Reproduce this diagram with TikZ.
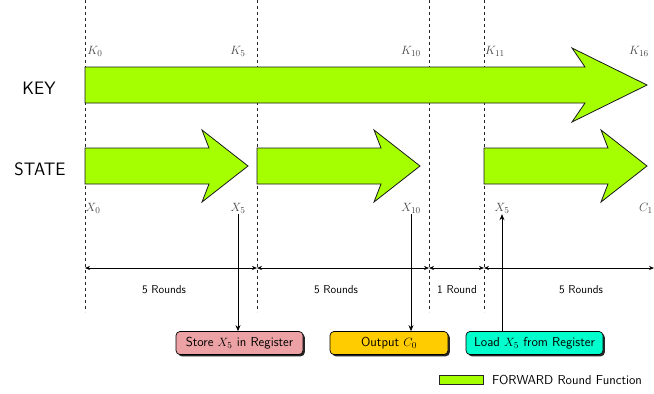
\documentclass[tikz,border=0pt]{standalone}
\usetikzlibrary{arrows.meta,shadows}
\renewcommand{\familydefault}{\sfdefault}
\definecolor{fwd}{RGB}{166,255,0}
\definecolor{storec}{RGB}{236,162,164}
\definecolor{outc}{RGB}{255,204,0}
\definecolor{loadc}{RGB}{0,255,204}
\tikzset{
  fwdarrow/.style={draw=black!90, line width=0.8pt, fill=fwd, line join=miter},
  sepline/.style={dashed, line width=0.6pt, black!85},
  lbl/.style={text=black!72, inner sep=1pt, font=\fontsize{12.5}{14}\selectfont},
  rowlbl/.style={font=\fontsize{18}{21}\selectfont, inner sep=0pt},
  dim/.style={line width=0.7pt, {Stealth[length=5pt,width=4pt]}-{Stealth[length=5pt,width=4pt]}},
  dimlbl/.style={font=\fontsize{11.5}{13}\selectfont, inner sep=1pt},
  vline/.style={line width=0.7pt, -{Stealth[length=6pt,width=5pt]}},
  regbox/.style={draw=black, line width=0.7pt, rounded corners=4pt, minimum height=23pt,
    font=\fontsize{13}{15}\selectfont, inner xsep=3pt,
    drop shadow={opacity=1, fill=black!85, shadow xshift=1.8pt, shadow yshift=-1.8pt}}
}
\begin{document}
\begin{tikzpicture}[x=1pt,y=-1pt]
\useasboundingbox (0,0) rectangle (654,394);
% separators
\foreach \n/\x in {a/85,b/257,c/429,d/484}{
  \coordinate (top\n) at (\x,0);
  \coordinate (bot\n) at (\x,312);
  \coordinate (dim\n) at (\x,268);
  \draw[sepline] (top\n) -- (bot\n);
}
\coordinate (dime) at (654,268);
% KEY arrow
\draw[fwdarrow] (85,67) -- (585,67) -- (572,48) -- (647,85) -- (572,122) -- (585,103) -- (85,103) -- cycle;
% STATE arrows
\foreach \s in {0,172,399}{
  \draw[fwdarrow] (85+\s,148) -- (209+\s,148) -- (202+\s,130) -- (248+\s,166) -- (202+\s,202) -- (209+\s,184) -- (85+\s,184) -- cycle;
}
% row labels
\node[rowlbl] (key) at (39,88) {KEY};
\node[rowlbl] (state) at (40,169) {STATE};
% key labels
\node[lbl] (k0) at (95,51) {$K_0$};
\node[lbl] (k5) at (238,51) {$K_5$};
\node[lbl] (k10) at (411,51) {$K_{10}$};
\node[lbl] (k11) at (495,51) {$K_{11}$};
\node[lbl] (k16) at (639,51) {$K_{16}$};
% state labels
\node[lbl] (x0) at (93,208) {$X_0$};
\node[lbl] (x5a) at (238,208) {$X_5$};
\node[lbl] (x10) at (411,208) {$X_{10}$};
\node[lbl] (x5b) at (502,208) {$X_5$};
\node[lbl] (c1) at (646,208) {$C_1$};
% dimension arrows
\draw[dim] (dima) -- (dimb);
\draw[dim] (dimb) -- (dimc);
\draw[dim] (dimc) -- (dimd);
\draw[dim] (dimd) -- (dime);
\node[dimlbl] (r1) at (164,290) {5 Rounds};
\node[dimlbl] (r2) at (336,290) {5 Rounds};
\node[dimlbl] (r3) at (457,290) {1 Round};
\node[dimlbl] (r4) at (581,290) {5 Rounds};
% register boxes
\node[regbox, fill=storec, minimum width=127pt] (store) at (239.5,343) {Store $X_5$ in Register};
\node[regbox, fill=outc, minimum width=118pt] (out) at (389,343) {Output $C_0$};
\node[regbox, fill=loadc, minimum width=137pt] (load) at (534.5,343) {Load $X_5$ from Register};
% connectors
\draw[vline] (x5a.south) -- (x5a.south |- store.north);
\draw[vline] (x10.south) -- (x10.south |- out.north);
\draw[vline] (x5b.south |- load.north) -- (x5b.south);
% legend
\node[draw=black!85, line width=0.7pt, fill=fwd, minimum width=44pt, minimum height=9pt, inner sep=0pt] (leg) at (461,380) {};
\node[font=\fontsize{13}{15}\selectfont, inner sep=1pt, anchor=west] (legtxt) at (491,380) {FORWARD Round Function};
\end{tikzpicture}
\end{document}
